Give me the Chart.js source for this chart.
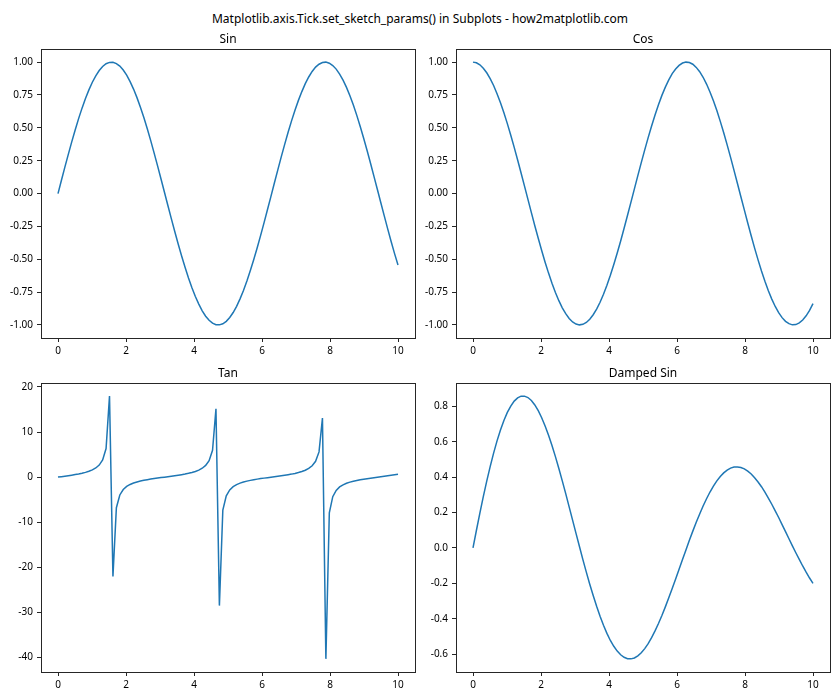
<!DOCTYPE html>
<html>
<head>
<meta charset="utf-8">
<script src="https://cdn.jsdelivr.net/npm/chart.js@4.4.0/dist/chart.umd.min.js"></script>
<style>
  body { margin: 0; background: #fff; width: 840px; height: 700px; position: relative; overflow: hidden; font-family: "Noto Sans", sans-serif; }
  #suptitle { position: absolute; left: 0; top: 10px; width: 840px; text-align: center; font-size: 12px; line-height: 18px; color: #000; }
  canvas { position: absolute; }
</style>
</head>
<body>
<div id="suptitle">Matplotlib.axis.Tick.set_sketch_params() in Subplots - how2matplotlib.com</div>
<canvas id="sinChart" width="417" height="326" style="left:0;top:32px"></canvas>
<canvas id="cosChart" width="412" height="326" style="left:420px;top:32px"></canvas>
<canvas id="tanChart" width="417" height="326" style="left:0;top:366px"></canvas>
<canvas id="dampChart" width="412" height="326" style="left:420px;top:366px"></canvas>
<script>
// x = 100 points from 0 to 10
const xs = [0, 0.101, 0.202, 0.303, 0.404, 0.505, 0.606, 0.707, 0.808, 0.909,
  1.010, 1.111, 1.212, 1.313, 1.414, 1.515, 1.616, 1.717, 1.818, 1.919,
  2.020, 2.121, 2.222, 2.323, 2.424, 2.525, 2.626, 2.727, 2.828, 2.929,
  3.030, 3.131, 3.232, 3.333, 3.434, 3.535, 3.636, 3.737, 3.838, 3.939,
  4.040, 4.141, 4.242, 4.343, 4.444, 4.545, 4.646, 4.747, 4.848, 4.949,
  5.051, 5.152, 5.253, 5.354, 5.455, 5.556, 5.657, 5.758, 5.859, 5.960,
  6.061, 6.162, 6.263, 6.364, 6.465, 6.566, 6.667, 6.768, 6.869, 6.970,
  7.071, 7.172, 7.273, 7.374, 7.475, 7.576, 7.677, 7.778, 7.879, 7.980,
  8.081, 8.182, 8.283, 8.384, 8.485, 8.586, 8.687, 8.788, 8.889, 8.990,
  9.091, 9.192, 9.293, 9.394, 9.495, 9.596, 9.697, 9.798, 9.899, 10];

const sinValues = [0, 0.101, 0.201, 0.298, 0.393, 0.484, 0.570, 0.650, 0.723, 0.789,
  0.847, 0.896, 0.936, 0.967, 0.988, 0.998, 0.999, 0.989, 0.970, 0.940,
  0.901, 0.852, 0.795, 0.730, 0.657, 0.578, 0.493, 0.403, 0.308, 0.211,
  0.111, 0.010, -0.091, -0.191, -0.289, -0.384, -0.475, -0.561, -0.642, -0.716,
  -0.783, -0.841, -0.892, -0.933, -0.964, -0.986, -0.998, -0.999, -0.991, -0.972,
  -0.943, -0.905, -0.858, -0.801, -0.737, -0.665, -0.586, -0.502, -0.412, -0.318,
  -0.221, -0.121, -0.021, 0.080, 0.180, 0.279, 0.374, 0.466, 0.553, 0.634,
  0.709, 0.776, 0.836, 0.887, 0.929, 0.962, 0.984, 0.997, 1.000, 0.992,
  0.974, 0.947, 0.909, 0.863, 0.808, 0.744, 0.673, 0.595, 0.511, 0.421,
  0.328, 0.231, 0.131, 0.031, -0.070, -0.170, -0.269, -0.365, -0.457, -0.544];

const cosValues = [1, 0.995, 0.980, 0.954, 0.919, 0.875, 0.822, 0.760, 0.691, 0.614,
  0.532, 0.444, 0.351, 0.255, 0.156, 0.056, -0.045, -0.146, -0.245, -0.341,
  -0.434, -0.523, -0.606, -0.683, -0.754, -0.816, -0.870, -0.915, -0.951, -0.978,
  -0.994, -1.000, -0.996, -0.982, -0.957, -0.923, -0.880, -0.828, -0.767, -0.698,
  -0.623, -0.540, -0.453, -0.361, -0.265, -0.166, -0.066, 0.035, 0.136, 0.235,
  0.332, 0.425, 0.514, 0.598, 0.676, 0.747, 0.810, 0.865, 0.913, 0.948,
  0.975, 0.993, 1.000, 0.997, 0.984, 0.960, 0.927, 0.885, 0.833, 0.773,
  0.706, 0.631, 0.549, 0.462, 0.370, 0.275, 0.176, 0.076, -0.025, -0.125,
  -0.225, -0.322, -0.416, -0.505, -0.590, -0.668, -0.740, -0.804, -0.860, -0.907,
  -0.945, -0.973, -0.991, -1.000, -0.998, -0.985, -0.963, -0.931, -0.890, -0.839];

const tanValues = [0, 0.101, 0.205, 0.313, 0.428, 0.553, 0.693, 0.854, 1.046, 1.284,
  1.593, 2.020, 2.667, 3.795, 6.331, 17.952, -22.029, -6.783, -3.960, -2.753,
  -2.073, -1.630, -1.312, -1.068, -0.872, -0.708, -0.566, -0.440, -0.324, -0.216,
  -0.112, -0.010, 0.091, 0.194, 0.301, 0.415, 0.540, 0.678, 0.837, 1.025,
  1.257, 1.557, 1.969, 2.586, 3.642, 5.935, 15.147, -28.494, -7.303, -4.138,
  -2.844, -2.129, -1.668, -1.340, -1.090, -0.891, -0.724, -0.580, -0.451, -0.335,
  -0.226, -0.122, -0.021, 0.081, 0.183, 0.290, 0.403, 0.526, 0.663, 0.819,
  1.004, 1.231, 1.522, 1.920, 2.509, 3.501, 5.584, 13.098, -40.302, -7.906,
  -4.333, -2.940, -2.187, -1.707, -1.369, -1.113, -0.909, -0.740, -0.594, -0.465,
  -0.347, -0.237, -0.133, -0.031, 0.070, 0.173, 0.279, 0.392, 0.513, 0.648];

const dampedValues = [0, 0.100, 0.197, 0.290, 0.378, 0.460, 0.536, 0.605, 0.667, 0.720,
  0.766, 0.802, 0.830, 0.848, 0.858, 0.858, 0.850, 0.833, 0.808, 0.776,
  0.736, 0.689, 0.637, 0.579, 0.516, 0.449, 0.379, 0.307, 0.232, 0.157,
  0.082, 0.008, -0.066, -0.137, -0.205, -0.269, -0.330, -0.386, -0.437, -0.483,
  -0.523, -0.556, -0.583, -0.604, -0.618, -0.626, -0.627, -0.622, -0.610, -0.593,
  -0.569, -0.541, -0.507, -0.469, -0.427, -0.382, -0.333, -0.282, -0.229, -0.175,
  -0.120, -0.066, -0.011, 0.043, 0.095, 0.145, 0.192, 0.237, 0.278, 0.316,
  0.349, 0.379, 0.404, 0.424, 0.440, 0.451, 0.457, 0.458, 0.455, 0.447,
  0.434, 0.418, 0.397, 0.373, 0.346, 0.315, 0.282, 0.247, 0.210, 0.172,
  0.132, 0.092, 0.052, 0.012, -0.027, -0.065, -0.102, -0.137, -0.170, -0.200];

const xTicks = [0, 2, 4, 6, 8, 10];
const trigTicks = [-1, -0.75, -0.5, -0.25, 0, 0.25, 0.5, 0.75, 1];
const trigTickLabels = ["-1.00", "-0.75", "-0.50", "-0.25", "0.00", "0.25", "0.50", "0.75", "1.00"];
const tanTicks = [-40, -30, -20, -10, 0, 10, 20];
const tanTickLabels = ["-40", "-30", "-20", "-10", "0", "10", "20"];
const dampTicks = [-0.6, -0.4, -0.2, 0, 0.2, 0.4, 0.6, 0.8];
const dampTickLabels = ["-0.6", "-0.4", "-0.2", "0.0", "0.2", "0.4", "0.6", "0.8"];

const fontFamily = '"Noto Sans", sans-serif';
const spineColor = "#262626";

// matplotlib style: full box around the axes
const frame = {
  id: "frame",
  afterDraw(chart) {
    const a = chart.chartArea;
    const ctx = chart.ctx;
    ctx.save();
    ctx.strokeStyle = spineColor;
    ctx.lineWidth = 1;
    ctx.strokeRect(Math.round(a.left) + 0.5, Math.round(a.top) + 0.5,
      Math.round(a.right - a.left), Math.round(a.bottom - a.top));
    ctx.restore();
  }
};

function padRange(values) {
  const lo = Math.min(...values);
  const hi = Math.max(...values);
  const m = (hi - lo) * 0.05;
  return [lo - m, hi + m];
}

function makePanel(id, title, ys, ticks, tickLabels, yWidth) {
  const [yMin, yMax] = padRange(ys);
  const [xMin, xMax] = padRange(xs);
  const ctx = document.getElementById(id).getContext("2d");
  return new Chart(ctx, {
    type: "line",
    data: {
      datasets: [{
        data: xs.map((x, i) => ({ x: x, y: ys[i] })),
        borderColor: "#1f77b4",
        borderWidth: 1.5,
        pointRadius: 0,
        tension: 0,
        fill: false
      }]
    },
    options: {
      responsive: false,
      animation: false,
      layout: { padding: { left: 0, right: 2, top: 0, bottom: 0 } },
      plugins: {
        legend: { display: false },
        tooltip: { enabled: false },
        title: {
          display: true,
          text: title,
          fullSize: false,
          color: "#000",
          font: { family: fontFamily, size: 12, weight: "normal", lineHeight: 1.2 },
          padding: { top: 0, bottom: 2.6 }
        }
      },
      scales: {
        x: {
          type: "linear",
          min: xMin,
          max: xMax,
          afterBuildTicks: s => { s.ticks = xTicks.map(v => ({ value: v })); },
          afterFit: s => { s.height = 20; },
          border: { display: false },
          grid: { drawOnChartArea: false, drawTicks: true, tickLength: 4, color: spineColor },
          ticks: { color: "#000", padding: 3, maxRotation: 0, font: { family: fontFamily, size: 10 }, callback: v => String(v) }
        },
        y: {
          type: "linear",
          min: yMin,
          max: yMax,
          afterBuildTicks: s => { s.ticks = ticks.map(v => ({ value: v })); },
          afterFit: s => { s.width = yWidth; },
          border: { display: false },
          grid: { drawOnChartArea: false, drawTicks: true, tickLength: 4, color: spineColor },
          ticks: {
            color: "#000", padding: 4, font: { family: fontFamily, size: 10 },
            callback: v => tickLabels[ticks.indexOf(v)]
          }
        }
      }
    },
    plugins: [frame]
  });
}

makePanel("sinChart", "Sin", sinValues, trigTicks, trigTickLabels, 41);
makePanel("cosChart", "Cos", cosValues, trigTicks, trigTickLabels, 36);
makePanel("tanChart", "Tan", tanValues, tanTicks, tanTickLabels, 41);
makePanel("dampChart", "Damped Sin", dampedValues, dampTicks, dampTickLabels, 36);
</script>
</body>
</html>
